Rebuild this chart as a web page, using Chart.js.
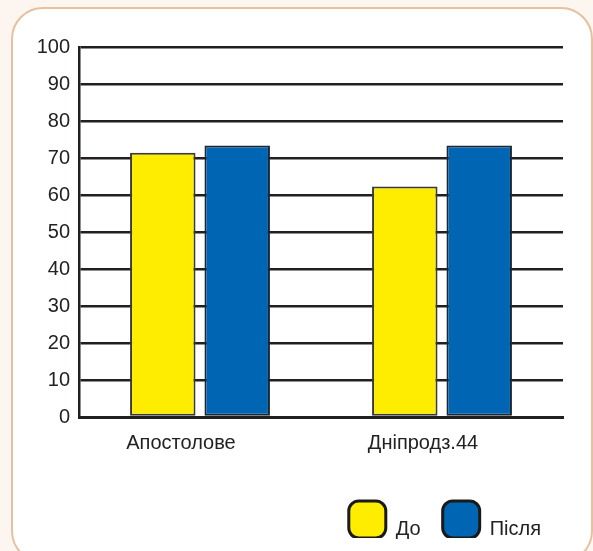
<!DOCTYPE html>
<html>
<head>
<meta charset="utf-8">
<script src="https://cdn.jsdelivr.net/npm/chart.js@4"></script>
<style>
  html, body { margin: 0; padding: 0; width: 593px; height: 551px; overflow: hidden; background: #fdf6f0; }
  #card { position: absolute; left: 11px; top: 7px; width: 578px; height: 552px; border: 2px solid #e6c09f; border-radius: 32px; background: #ffffff; }
  #wrap { position: absolute; left: 0; top: 0; width: 593px; height: 551px; }
</style>
</head>
<body>
<div id="card"></div>
<div id="wrap"><canvas id="c" width="593" height="551"></canvas></div>
<script>
const categories = ['Апостолове', 'Дніпродз.44'];
const seriesNames = ['До', 'Після'];
const valuesBefore = [71.4, 62.3];
const valuesAfter = [73.4, 73.4];
const yTicks = [0, 10, 20, 30, 40, 50, 60, 70, 80, 90, 100];

const FONT = '"Liberation Sans", Arial, sans-serif';
const LEGEND_FONT_SIZE = 20;
const LEGEND_BOX = 37;

// Draws the legend texts aligned to the bottom of the legend boxes, as in the reference.
const legendTextPlugin = {
  id: 'legendText',
  afterDraw(chart) {
    const lg = chart.legend;
    if (!lg || !lg.legendHitBoxes) return;
    const ctx = chart.ctx;
    ctx.save();
    ctx.font = LEGEND_FONT_SIZE + 'px ' + FONT;
    ctx.fillStyle = '#222';
    ctx.textAlign = 'left';
    ctx.textBaseline = 'alphabetic';
    lg.legendItems.forEach((item, i) => {
      const hb = lg.legendHitBoxes[i];
      ctx.fillText(item.text, hb.left + LEGEND_BOX + LEGEND_FONT_SIZE / 2, hb.top + LEGEND_BOX - 3);
    });
    ctx.restore();
  }
};

new Chart(document.getElementById('c'), {
  type: 'bar',
  data: {
    labels: categories,
    datasets: [
      { label: seriesNames[0], data: valuesBefore, backgroundColor: '#ffed00', borderColor: '#3a3a3a', borderWidth: 2, borderSkipped: false },
      { label: seriesNames[1], data: valuesAfter, backgroundColor: '#0066b3', borderColor: '#1c2530', borderWidth: 2, borderSkipped: false }
    ]
  },
  plugins: [legendTextPlugin],
  options: {
    responsive: false,
    animation: false,
    devicePixelRatio: 1,
    categoryPercentage: 0.615,
    barPercentage: 0.88,
    layout: { padding: { top: 47, right: 30, bottom: 13, left: 0 } },
    plugins: {
      tooltip: { enabled: false },
      legend: {
        position: 'bottom',
        align: 'end',
        maxHeight: 59,
        labels: {
          boxWidth: LEGEND_BOX,
          boxHeight: LEGEND_BOX,
          padding: 22,
          color: 'rgba(0,0,0,0)',
          font: { family: FONT, size: LEGEND_FONT_SIZE },
          generateLabels: (chart) => chart.data.datasets.map((ds, i) => ({
            text: ds.label,
            fillStyle: ds.backgroundColor,
            strokeStyle: '#1a1a1a',
            lineWidth: 3,
            borderRadius: 10,
            datasetIndex: i,
            hidden: false,
            fontColor: 'rgba(0,0,0,0)'
          }))
        }
      }
    },
    scales: {
      x: {
        grid: { display: false, drawTicks: false },
        border: { display: true, color: '#231f20', width: 3 },
        ticks: { color: '#222', font: { family: FONT, size: 20 }, padding: 14, labelOffset: -19 },
        afterFit: (s) => { s.height = 62; }
      },
      y: {
        min: 0,
        max: 100,
        afterBuildTicks: (s) => { s.ticks = yTicks.map(v => ({ value: v })); },
        grid: { color: '#231f20', lineWidth: 2.5, drawTicks: false },
        border: { display: true, color: '#231f20', width: 2.5 },
        ticks: { color: '#222', font: { family: FONT, size: 20 }, padding: 9 },
        afterFit: (s) => { s.width = 79; }
      }
    }
  }
});
</script>
</body>
</html>
